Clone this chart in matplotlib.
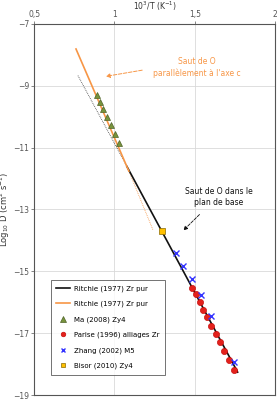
import matplotlib
matplotlib.use("Agg")
import matplotlib.pyplot as plt
import numpy as np

# Ritchie (1977) lines (solid part + dotted extension)
ritchie_b_x = [1.078, 1.767]
ritchie_b_y = [-11.61, -18.26]
ritchie_b_dot_x = [0.773, 1.078]
ritchie_b_dot_y = [-8.67, -11.61]
ritchie_o_x = [0.761, 1.09]
ritchie_o_y = [-7.81, -11.76]
ritchie_o_dot_x = [1.09, 1.24]
ritchie_o_dot_y = [-11.76, -13.66]

ma_x = [0.889, 0.910, 0.929, 0.952, 0.976, 1.003, 1.028]
ma_y = [-9.31, -9.52, -9.74, -10.00, -10.26, -10.55, -10.84]

parise_x = [1.483, 1.510, 1.531, 1.552, 1.577, 1.604, 1.630, 1.657, 1.684, 1.713, 1.747]
parise_y = [-15.53, -15.74, -15.99, -16.25, -16.49, -16.76, -17.03, -17.30, -17.57, -17.87, -18.19]

zhang_x = [1.382, 1.427, 1.486, 1.539, 1.599, 1.744]
zhang_y = [-14.40, -14.83, -15.26, -15.77, -16.44, -17.93]

bisor_x = [1.295]
bisor_y = [-13.68]

xticks = [0.5, 1, 1.5, 2]
xticklabels = ['0,5', '1', '1,5', '2']
yticks = [-7, -9, -11, -13, -15, -17, -19]

plt.rcParams['font.family'] = ['DejaVu Sans']
fig = plt.figure(figsize=(2.77, 3.99), dpi=100)
ax = fig.add_axes([0.123, 0.010, 0.870, 0.930])

orange = '#F79646'
ax.plot(ritchie_b_dot_x, ritchie_b_dot_y, color='#444444', lw=0.6, ls=(0, (1, 1.2)))
ax.plot(ritchie_o_dot_x, ritchie_o_dot_y, color=orange, lw=0.6, ls=(0, (1, 1.2)))
ax.plot(ritchie_b_x, ritchie_b_y, color='#111111', lw=1.2, label='Ritchie (1977) Zr pur')
ax.plot(ritchie_o_x, ritchie_o_y, color=orange, lw=1.2, label='Ritchie (1977) Zr pur')
ax.plot(ma_x, ma_y, ls='none', marker='^', ms=5, mfc='#77933C', mec='#4F6228', mew=0.5,
        label='Ma (2008) Zy4')
ax.plot(parise_x, parise_y, ls='none', marker='o', ms=4.5, mfc='#E3211C', mec='#C00000', mew=0.4,
        label='Parise (1996) alliages Zr')
ax.plot(zhang_x, zhang_y, ls='none', marker='x', ms=4, mec='#3333FF', mew=1.0,
        label='Zhang (2002) M5')
ax.plot(bisor_x, bisor_y, ls='none', marker='s', ms=4.5, mfc='#FFC000', mec='#8A6A00', mew=0.5,
        label='Bisor (2010) Zy4')

ax.set_xlim(0.5, 2)
ax.set_ylim(-19, -7)
ax.xaxis.tick_top()
ax.xaxis.set_label_position('top')
ax.set_xticks(xticks)
ax.set_xticklabels(xticklabels)
ax.set_yticks(yticks)
ax.tick_params(labelsize=5.5, colors='#555555', length=2, width=0.5, pad=1.5)
ax.grid(True, color='#d9d9d9', lw=0.6)
ax.set_axisbelow(True)
for s in ax.spines.values():
    s.set_color('#555555')
    s.set_linewidth(0.8)
ax.set_xlabel('10$^3$/T (K$^{-1}$)', fontsize=5.5, color='#333333', labelpad=0)
ax.set_ylabel('Log$_{10}$ D (cm$^2$ s$^{-1}$)', fontsize=6, color='#333333', labelpad=1)

ax.text(1.512, -8.42, "Saut de O\nparallèlement à l'axe c", color=orange, fontsize=5.5,
        ha='center', va='center', linespacing=1.3)
ax.annotate('', xy=(0.929, -8.71), xytext=(1.19, -8.48),
            arrowprops=dict(arrowstyle='-|>', color=orange, lw=0.7, ls='--', mutation_scale=6))
ax.text(1.649, -12.61, "Saut de O dans le\nplan de base", color='#111111', fontsize=5.5,
        ha='center', va='center', linespacing=1.3)
ax.annotate('', xy=(1.417, -13.74), xytext=(1.542, -13.10),
            arrowprops=dict(arrowstyle='-|>', color='#111111', lw=0.6, ls='--', mutation_scale=6))

leg = ax.legend(loc='lower left', bbox_to_anchor=(0.069, 0.054), fontsize=5, frameon=True,
                fancybox=False, edgecolor='#333333', handlelength=2.0, labelspacing=1.3,
                borderpad=0.8, handletextpad=0.5, borderaxespad=0, markerscale=0.75)
leg.get_frame().set_linewidth(0.6)

fig.savefig('out.png', dpi=100)
